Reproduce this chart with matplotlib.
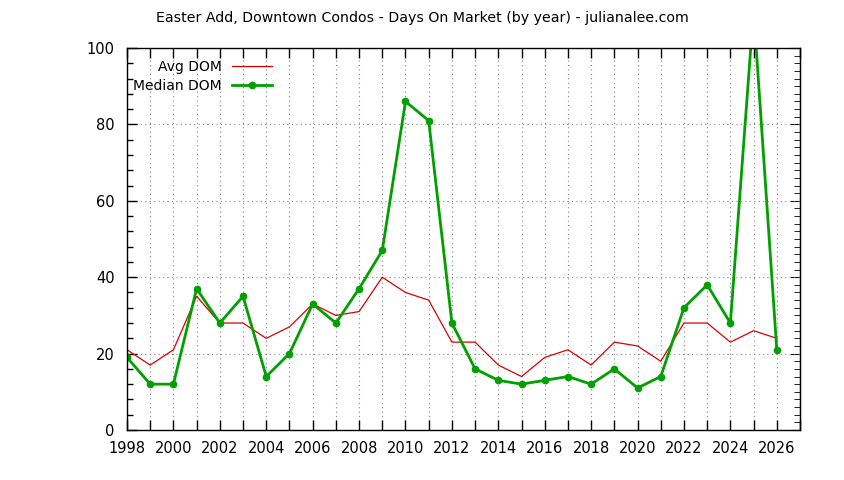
import matplotlib
matplotlib.use("Agg")
import matplotlib.pyplot as plt
from matplotlib.ticker import MultipleLocator

# Data
years = list(range(1998, 2027))
avg_dom = [21, 17, 21, 35, 28, 28, 24, 27, 33, 30, 31, 40, 36, 34,
           23, 23, 17, 14, 19, 21, 17, 23, 22, 18, 28, 28, 23, 26, 24]
median_dom = [19, 12, 12, 37, 28, 35, 14, 20, 33, 28, 37, 47, 86, 81,
              28, 16, 13, 12, 13, 14, 12, 16, 11, 14, 32, 38, 28, 110, 21]

plt.rcParams['font.family'] = 'DejaVu Sans'
plt.rcParams['font.size'] = 10.5

fig = plt.figure(figsize=(8.44, 4.8), dpi=100)
ax = fig.add_axes([127 / 844, 50 / 480, 673 / 844, 382 / 480])

ax.plot(years, avg_dom, color='#dd0000', linewidth=0.9, label='Avg DOM')
ax.plot(years, median_dom, color='#00a000', linewidth=2, marker='o',
        markersize=4.5, label='Median DOM')

ax.set_xlim(1998, 2027)
ax.set_ylim(0, 100)

ax.xaxis.set_major_locator(MultipleLocator(2))
ax.xaxis.set_minor_locator(MultipleLocator(1))
ax.yaxis.set_major_locator(MultipleLocator(20))
ax.yaxis.set_minor_locator(MultipleLocator(4))

ax.tick_params(which='both', direction='in', top=True, right=False, width=1)
ax.tick_params(axis='x', which='both', length=7, pad=8)
ax.tick_params(axis='y', which='major', length=7, pad=9)
ax.tick_params(axis='y', which='minor', length=4)

# right axis: minor ticks every 2
right = ax.secondary_yaxis('right')
right.yaxis.set_major_locator(MultipleLocator(20))
right.yaxis.set_minor_locator(MultipleLocator(2))
right.tick_params(which='both', direction='in', labelright=False)
right.tick_params(which='major', length=7)
right.tick_params(which='minor', length=4)

ax.grid(True, which='major', axis='y', linestyle=(0, (1, 3)), color='#888888', linewidth=0.8)
ax.grid(True, which='both', axis='x', linestyle=(0, (1, 3)), color='#888888', linewidth=0.8)

for s in ax.spines.values():
    s.set_linewidth(1)

ax.legend(loc='upper left', bbox_to_anchor=(-0.005, 0.994), frameon=False,
          markerfirst=False, handlelength=2.9, borderaxespad=0.3,
          labelspacing=0.35, handletextpad=0.7, fontsize=10)

fig.text(0.5, 1 - 18 / 480, 'Easter Add, Downtown Condos - Days On Market (by year) - julianalee.com',
         ha='center', va='center', fontsize=10.2)

fig.savefig('out.png', dpi=100)
